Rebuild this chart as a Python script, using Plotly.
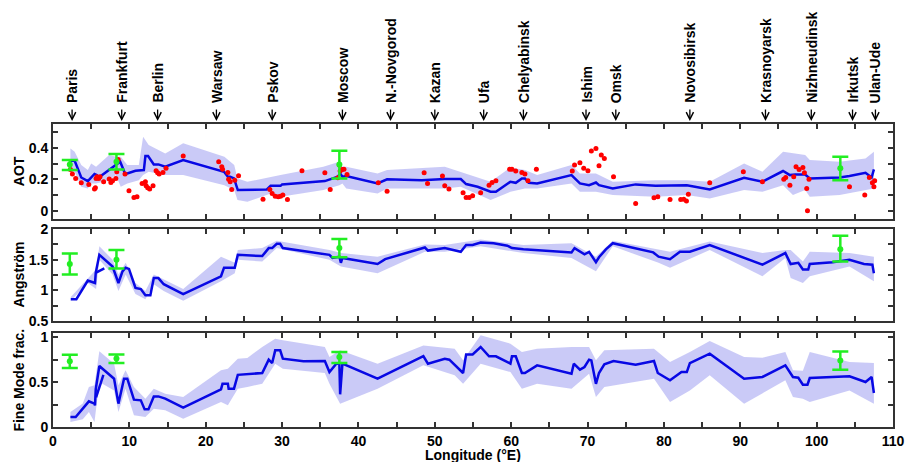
import plotly.graph_objects as go

# ---------------- data ----------------
cities = ["Paris", "Frankfurt", "Berlin", "Warsaw", "Pskov", "Moscow", "N.-Novgorod", "Kazan",
          "Ufa", "Chelyabinsk", "Ishim", "Omsk", "Novosibirsk", "Krasnoyarsk", "Nizhneudinsk",
          "Irkutsk", "Ulan-Ude"]
city_lon = [2.5, 9.0, 13.7, 21.4, 28.7, 37.9, 44.2, 50.0, 56.4, 61.6, 69.8, 73.7, 83.4, 93.3,
            99.3, 104.7, 107.7]

# AOT panel
aot_lon = [2.28, 2.84, 3.7, 4.56, 5.43, 5.73, 5.99, 8.0, 8.8, 9.43, 9.73, 10.8, 11.9, 12.1, 12.45,
           13.2, 13.8, 14.7, 17.05, 22.4, 22.9, 23.2, 23.7, 24.2, 25.45, 28.0, 28.5, 29.8, 30.0,
           35.6, 37.3, 37.6, 37.9, 38.4, 42.5, 43.75, 48.3, 49.6, 51.3, 53.4, 54.1, 55.6, 57.3,
           58.0, 59.9, 60.6, 61.4, 61.8, 62.3, 63.4, 67.9, 69.0, 70.2, 71.1, 71.5, 73.3, 76.3,
           78.9, 83.0, 86.0, 90.5, 92.9, 95.6, 96.5, 97.2, 98.5, 99.1, 103.0, 104.3, 106.4, 107.2,
           107.5]
aot_val = [0.318, 0.318, 0.212, 0.189, 0.234, 0.227, 0.212, 0.287, 0.312, 0.238, 0.238, 0.255,
           0.259, 0.348, 0.348, 0.295, 0.295, 0.28, 0.323, 0.248, 0.217, 0.217, 0.206, 0.132,
           0.132, 0.136, 0.159, 0.159, 0.168, 0.189, 0.217, 0.238, 0.217, 0.221, 0.174, 0.2, 0.195,
           0.2, 0.202, 0.202, 0.17, 0.153, 0.121, 0.121, 0.185, 0.178, 0.206, 0.206, 0.178, 0.174,
           0.227, 0.174, 0.163, 0.18, 0.163, 0.142, 0.168, 0.159, 0.163, 0.136, 0.21, 0.185,
           0.253, 0.227, 0.231, 0.231, 0.206, 0.212, 0.221, 0.242, 0.212, 0.263]
aot_band_lon = [2.28, 2.84, 3.7, 4.56, 5.0, 5.64, 7.36, 8.23, 8.87, 9.73, 11.24, 11.8, 12.53, 13.4,
                14.7, 17.05, 22.44, 23.73, 24.16, 25.45, 28.5, 29.8, 35.4, 37.5, 37.9, 38.4, 42.5,
                43.75, 51.3, 53.4, 57.3, 59.9, 61.8, 63.4, 67.9, 69.0, 71.1, 73.3, 78.9, 83.0,
                86.0, 90.5, 92.9, 95.6, 96.9, 98.5, 99.1, 103.0, 106.4, 107.5]
aot_band_hi = [0.397, 0.376, 0.291, 0.259, 0.301, 0.28, 0.355, 0.344, 0.344, 0.291, 0.291, 0.471,
               0.418, 0.397, 0.365, 0.429, 0.344, 0.291, 0.206, 0.185, 0.217, 0.227, 0.28, 0.312,
               0.28, 0.28, 0.238, 0.259, 0.28, 0.248, 0.185, 0.276, 0.259, 0.227, 0.291, 0.238,
               0.238, 0.185, 0.195, 0.195, 0.185, 0.301, 0.248, 0.376, 0.365, 0.355, 0.323, 0.312,
               0.333, 0.376]
aot_band_lo = [0.244, 0.248, 0.153, 0.142, 0.174, 0.174, 0.195, 0.227, 0.153, 0.174, 0.195, 0.227,
               0.248, 0.238, 0.227, 0.227, 0.163, 0.132, 0.068, 0.057, 0.11, 0.089, 0.132, 0.163,
               0.174, 0.142, 0.11, 0.142, 0.142, 0.153, 0.068, 0.121, 0.142, 0.142, 0.174, 0.121,
               0.121, 0.1, 0.089, 0.1, 0.079, 0.132, 0.121, 0.163, 0.1, 0.132, 0.089, 0.1, 0.132,
               0.142]
sun_lon = [2.28, 2.54, 2.97, 3.7, 4.69, 5.43, 5.55, 5.64, 5.77, 5.99, 6.16, 6.63, 7.36, 7.58, 7.8,
           8.23, 8.35, 8.53, 9.43, 9.95, 10.6, 11.0, 11.67, 12.1, 12.19, 12.4, 12.66, 13.1, 13.5,
           13.7, 13.9, 14.4, 14.8, 17.05, 21.7, 22.1, 22.2, 22.9, 23.0, 23.2, 23.4, 23.8, 24.3,
           27.5, 28.4, 28.7, 29.1, 29.5, 29.8, 30.1, 30.7, 32.6, 35.6, 36.3, 37.3, 37.5, 37.6,
           37.85, 38.1, 38.5, 42.6, 43.75, 48.6, 49.05, 51.0, 51.3, 51.85, 53.7, 54.1, 54.5, 54.95,
           56.0, 57.1, 57.5, 58.0, 59.8, 60.1, 60.6, 61.4, 61.8, 62.2, 63.3, 68.0, 68.3, 69.0,
           69.5, 70.05, 70.5, 71.1, 71.5, 71.8, 72.2, 73.4, 76.3, 78.7, 79.2, 80.8, 82.2, 82.6,
           82.95, 83.2, 86.0, 90.4, 92.9, 95.7, 95.95, 96.5, 97.0, 97.3, 97.7, 98.2, 98.4, 98.7,
           98.8, 99.0, 104.3, 106.3, 106.9, 107.3, 107.5, 107.6]
sun_aot = [0.263, 0.234, 0.206, 0.178, 0.168, 0.138, 0.146, 0.206, 0.217, 0.206, 0.217, 0.185,
           0.202, 0.18, 0.191, 0.206, 0.248, 0.327, 0.234, 0.127, 0.085, 0.089, 0.174, 0.185,
           0.159, 0.146, 0.138, 0.159, 0.255, 0.242, 0.234, 0.244, 0.27, 0.348, 0.312, 0.28,
           0.265, 0.244, 0.2, 0.185, 0.136, 0.195, 0.223, 0.074, 0.136, 0.11, 0.093, 0.089, 0.093,
           0.1, 0.072, 0.255, 0.242, 0.136, 0.21, 0.291, 0.253, 0.263, 0.265, 0.231, 0.178,
           0.125, 0.242, 0.174, 0.221, 0.159, 0.138, 0.115, 0.085, 0.085, 0.096, 0.115, 0.163,
           0.18, 0.191, 0.265, 0.265, 0.253, 0.244, 0.234, 0.191, 0.265, 0.253, 0.291, 0.306,
           0.27, 0.255, 0.38, 0.397, 0.287, 0.355, 0.333, 0.217, 0.047, 0.083, 0.089, 0.072,
           0.072, 0.074, 0.062, 0.106, 0.178, 0.248, 0.185, 0.2, 0.212, 0.163, 0.217, 0.28, 0.263,
           0.276, 0.242, 0.142, 0.0, 0.2, 0.153, 0.1, 0.212, 0.178, 0.153, 0.191]

# Angstrom panel
ang_lon = [2.33, 3.06, 4.56, 5.43, 5.5, 5.6, 6.07, 7.8, 8.57, 9.1, 9.5, 9.95, 10.8, 11.5, 12.1,
           12.75, 13.2, 13.8, 14.5, 17.05, 22.0, 22.4, 23.8, 24.2, 27.4, 28.25, 28.7, 29.3, 29.75,
           30.1, 36.2, 36.6, 37.5, 37.7, 37.9, 42.5, 43.5, 48.7, 49.1, 51.3, 53.4, 54.1, 54.95,
           56.0, 57.7, 59.5, 60.1, 61.6, 67.9, 68.3, 69.6, 70.2, 71.1, 71.5, 72.4, 73.3, 78.6,
           79.3, 80.8, 82.1, 83.4, 86.0, 92.9, 95.9, 96.6, 97.6, 98.2, 98.9, 99.1, 102.1, 104.3,
           106.2, 107.3, 107.5]
ang_val = [0.855, 0.855, 1.16, 1.13, 1.12, 1.29, 1.58, 1.39, 1.12, 1.31, 1.37, 1.35, 1.04, 1.02,
           0.92, 0.92, 1.2, 1.2, 1.1, 0.94, 1.23, 1.37, 1.37, 1.58, 1.56, 1.69, 1.69, 1.76, 1.76,
           1.69, 1.58, 1.53, 1.55, 1.45, 1.53, 1.43, 1.51, 1.7, 1.65, 1.69, 1.63, 1.74, 1.74,
           1.78, 1.77, 1.73, 1.69, 1.67, 1.62, 1.69, 1.59, 1.63, 1.46, 1.54, 1.67, 1.77, 1.62,
           1.55, 1.51, 1.63, 1.63, 1.74, 1.42, 1.61, 1.43, 1.45, 1.34, 1.34, 1.43, 1.46, 1.5,
           1.43, 1.42, 1.28]
ang_seg_lon = [5.64, 6.72]
ang_seg_val = [1.29, 1.36]
ang_band_lon = [2.33, 4.56, 5.64, 6.07, 7.8, 8.57, 9.52, 10.8, 12.1, 13.2, 14.5, 17.05, 22.0,
                23.8, 24.2, 27.4, 29.3, 36.2, 37.7, 42.5, 48.7, 51.3, 56.0, 61.6, 67.9, 71.1,
                73.3, 79.3, 80.8, 86.0, 92.9, 95.9, 96.6, 98.2, 99.1, 104.3, 107.5]
ang_band_hi = [0.89, 1.2, 1.34, 1.72, 1.5, 1.26, 1.45, 1.12, 0.99, 1.26, 1.18, 1.02, 1.55, 1.45,
               1.66, 1.69, 1.81, 1.66, 1.61, 1.55, 1.75, 1.74, 1.83, 1.74, 1.77, 1.55, 1.81, 1.66,
               1.63, 1.8, 1.61, 1.66, 1.66, 1.47, 1.63, 1.61, 1.55]
ang_band_lo = [0.83, 1.12, 1.02, 1.5, 1.26, 0.99, 1.26, 0.94, 0.855, 1.1, 0.99, 0.83, 1.15, 1.28,
               1.5, 1.47, 1.69, 1.5, 1.39, 1.28, 1.63, 1.63, 1.72, 1.61, 1.53, 1.31, 1.72, 1.45,
               1.37, 1.66, 1.23, 1.53, 1.2, 1.12, 1.23, 1.39, 1.15]

# Fine mode fraction panel
fmf_lon = [2.28, 2.97, 4.7, 5.43, 5.5, 5.6, 6.07, 8.0, 8.57, 9.3, 9.73, 10.6, 11.5, 12.0, 12.5,
           13.2, 13.8, 14.7, 17.05, 22.0, 22.2, 22.9, 23.0, 23.7, 24.2, 27.4, 28.25, 28.7, 29.1,
           29.75, 30.1, 32.8, 35.6, 36.2, 37.1, 37.5, 37.6, 37.9, 42.5, 48.5, 49.1, 51.3, 51.9,
           53.7, 54.1, 54.95, 56.0, 57.1, 58.0, 59.9, 60.1, 60.6, 61.4, 61.8, 63.4, 67.9, 68.2,
           69.0, 69.6, 70.2, 70.5, 71.1, 71.5, 72.2, 73.4, 76.3, 78.7, 79.2, 80.8, 82.3, 83.0,
           83.4, 86.0, 90.5, 92.9, 95.9, 96.9, 97.6, 98.2, 98.8, 99.1, 104.3, 106.4, 107.2, 107.5]
fmf_val = [0.111, 0.111, 0.285, 0.26, 0.24, 0.42, 0.678, 0.537, 0.26, 0.537, 0.537, 0.304, 0.296,
           0.196, 0.196, 0.34, 0.34, 0.315, 0.215, 0.419, 0.48, 0.48, 0.426, 0.426, 0.58, 0.6,
           0.748, 0.711, 0.852, 0.852, 0.76, 0.73, 0.733, 0.611, 0.704, 0.704, 0.363, 0.704,
           0.537, 0.789, 0.704, 0.759, 0.748, 0.6, 0.807, 0.807, 0.889, 0.785, 0.785, 0.704,
           0.785, 0.785, 0.6, 0.6, 0.685, 0.593, 0.704, 0.637, 0.667, 0.748, 0.74, 0.48, 0.6,
           0.696, 0.733, 0.693, 0.733, 0.6, 0.519, 0.611, 0.611, 0.711, 0.815, 0.537, 0.556,
           0.685, 0.556, 0.548, 0.47, 0.47, 0.544, 0.563, 0.5, 0.556, 0.378]
fmf_seg_lon = [5.64, 6.6]
fmf_seg_val = [0.33, 0.58]
fmf_band_lon = [2.28, 3.9, 4.7, 5.43, 6.07, 8.0, 8.57, 9.5, 10.6, 12.1, 13.2, 14.7, 17.05, 22.0,
                22.9, 24.2, 25.45, 27.4, 29.1, 30.1, 35.6, 36.2, 37.6, 42.5, 48.5, 52.6, 53.7,
                56.0, 59.9, 61.4, 63.4, 67.9, 70.2, 71.1, 72.2, 78.7, 80.8, 83.4, 86.0, 90.5,
                92.9, 95.9, 96.9, 98.2, 99.1, 104.3, 107.5]
fmf_band_hi = [0.167, 0.26, 0.444, 0.463, 0.841, 0.704, 0.463, 0.63, 0.444, 0.315, 0.426, 0.37,
               0.333, 0.63, 0.648, 0.759, 0.767, 0.889, 0.98, 0.963, 0.889, 0.778, 0.852, 0.704,
               0.907, 0.87, 0.741, 1.02, 0.926, 0.833, 0.87, 0.889, 0.889, 0.741, 0.852, 0.87,
               0.722, 0.833, 0.956, 0.778, 0.77, 0.833, 0.63, 0.626, 0.833, 0.722, 0.711]
fmf_band_lo = [0.056, 0.085, 0.167, 0.056, 0.5, 0.407, 0.167, 0.426, 0.13, 0.111, 0.204, 0.185,
               0.093, 0.278, 0.241, 0.426, 0.444, 0.481, 0.704, 0.648, 0.6, 0.481, 0.259, 0.426,
               0.685, 0.574, 0.481, 0.704, 0.611, 0.426, 0.481, 0.426, 0.593, 0.333, 0.444, 0.537,
               0.278, 0.407, 0.574, 0.259, 0.37, 0.519, 0.333, 0.315, 0.278, 0.407, 0.259]

# AERONET stations (green error bars)
st_lon = [2.2, 8.31, 37.5, 103.1]
st_aot = [0.295, 0.312, 0.295, 0.27]
st_aot_hi = [0.323, 0.361, 0.382, 0.344]
st_aot_lo = [0.259, 0.263, 0.206, 0.195]
st_ang = [1.43, 1.5, 1.69, 1.67]
st_ang_hi = [1.60, 1.66, 1.84, 1.89]
st_ang_lo = [1.26, 1.355, 1.54, 1.47]
st_fmf = [0.73, 0.76, 0.778, 0.74]
st_fmf_hi = [0.804, 0.807, 0.833, 0.84]
st_fmf_lo = [0.656, 0.711, 0.711, 0.637]

# ---------------- styles ----------------
FONT = "Liberation Sans"
BAND = "rgba(150,150,240,0.5)"
BLUE = "rgb(8,8,228)"
GREEN = "#22ee22"
RED = "#ff0000"
AX = "#333333"

fig = go.Figure()


def add_panel(n, lon, val, blon, bhi, blo, slon, sc, shi, slo, seg=None, dots=None):
    xa = "x" if n == 1 else f"x{n}"
    ya = "y" if n == 1 else f"y{n}"
    fig.add_trace(go.Scatter(x=list(blon) + list(blon)[::-1], y=list(bhi) + list(blo)[::-1],
                             fill="toself", fillcolor=BAND, line=dict(width=0), mode="lines",
                             hoverinfo="skip", xaxis=xa, yaxis=ya, showlegend=False))
    fig.add_trace(go.Scatter(x=lon, y=val, mode="lines", line=dict(color=BLUE, width=2.5),
                             xaxis=xa, yaxis=ya, showlegend=False))
    if seg is not None:
        fig.add_trace(go.Scatter(x=seg[0], y=seg[1], mode="lines",
                                 line=dict(color=BLUE, width=2.5), xaxis=xa, yaxis=ya,
                                 showlegend=False))
    if dots is not None:
        fig.add_trace(go.Scatter(x=dots[0], y=dots[1], mode="markers",
                                 marker=dict(color=RED, size=5), xaxis=xa, yaxis=ya,
                                 showlegend=False))
    fig.add_trace(go.Scatter(
        x=slon, y=sc, mode="markers", marker=dict(color=GREEN, size=6),
        error_y=dict(type="data", symmetric=False,
                     array=[h - c for h, c in zip(shi, sc)],
                     arrayminus=[c - l for c, l in zip(sc, slo)],
                     color=GREEN, thickness=2.5, width=8),
        xaxis=xa, yaxis=ya, showlegend=False))


add_panel(1, aot_lon, aot_val, aot_band_lon, aot_band_hi, aot_band_lo,
          st_lon, st_aot, st_aot_hi, st_aot_lo, dots=(sun_lon, sun_aot))
add_panel(2, ang_lon, ang_val, ang_band_lon, ang_band_hi, ang_band_lo,
          st_lon, st_ang, st_ang_hi, st_ang_lo, seg=(ang_seg_lon, ang_seg_val))
add_panel(3, fmf_lon, fmf_val, fmf_band_lon, fmf_band_hi, fmf_band_lo,
          st_lon, st_fmf, st_fmf_hi, st_fmf_lo, seg=(fmf_seg_lon, fmf_seg_val))

tickfont = dict(family=FONT, size=14, color="black", weight="bold")
common = dict(showline=True, linecolor=AX, linewidth=2, mirror="ticks", ticks="inside",
              ticklen=5, tickwidth=1.5, tickcolor=AX, showgrid=False, zeroline=False,
              tickfont=tickfont)
xcommon = dict(common, range=[0, 110], dtick=10, tick0=0,
               minor=dict(dtick=5, tick0=0, ticks="inside", ticklen=5, tickcolor=AX))

fig.update_layout(
    width=917, height=462, paper_bgcolor="white", plot_bgcolor="white",
    margin=dict(l=53, r=13, t=124, b=35),
    xaxis=dict(xcommon, anchor="y", domain=[0, 1], showticklabels=False),
    xaxis2=dict(xcommon, anchor="y2", domain=[0, 1], showticklabels=False),
    xaxis3=dict(xcommon, anchor="y3", domain=[0, 1]),
    yaxis=dict(common, anchor="x", domain=[0.686, 1.0], range=[-0.053, 0.552], dtick=0.2,
               tick0=0, minor=dict(dtick=0.1, tick0=0, ticks="inside", ticklen=5, tickcolor=AX)),
    yaxis2=dict(common, anchor="x2", domain=[0.350, 0.653], range=[0.5, 2.0], dtick=0.5,
                tick0=0, minor=dict(dtick=0.25, tick0=0, ticks="inside", ticklen=5,
                                    tickcolor=AX)),
    yaxis3=dict(common, anchor="x3", domain=[0.0, 0.310], range=[0, 1.044], dtick=0.5,
                tick0=0, minor=dict(dtick=0.25, tick0=0, ticks="inside", ticklen=5,
                                    tickcolor=AX)),
)

lab = dict(family=FONT, size=14, color="black", weight="bold")
ann = []
for name, lon in zip(cities, city_lon):
    # city name (rotated) and a downward arrow pointing at the panel
    ann.append(dict(x=lon, xref="x", y=1.0627, yref="paper", text=name,
                    textangle=-90, xanchor="center", yanchor="bottom", showarrow=False,
                    font=lab))
    ann.append(dict(x=lon, xref="x", y=1.0099, yref="paper", text="", showarrow=True,
                    ax=0, ay=-13, arrowhead=5, arrowsize=1.1, arrowwidth=1.3,
                    arrowcolor="black"))
for txt, yc in [("AOT", 0.843), ("Angstr\u00f6m", 0.5015), ("Fine Mode frac.", 0.155)]:
    ann.append(dict(x=-0.041, xref="paper", y=yc, yref="paper", text=txt, textangle=-90,
                    xanchor="center", yanchor="middle", showarrow=False, font=lab))
ann.append(dict(x=0.5, xref="paper", y=-0.092, yref="paper", text="Longitude (\u00b0E)",
                xanchor="center", yanchor="middle", showarrow=False, font=lab))
fig.update_layout(annotations=ann)

fig.write_html("out.html")
